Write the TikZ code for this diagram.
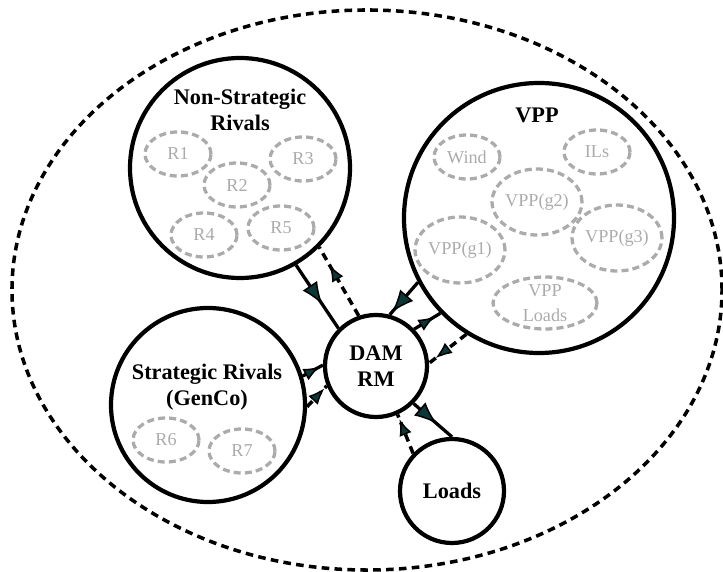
\documentclass[tikz,border=0pt]{standalone}
\usepackage{fontspec}
\setmainfont{Liberation Serif}
\usetikzlibrary{arrows.meta,shapes.geometric,decorations.markings}
\definecolor{membergray}{HTML}{ABABAB}
\definecolor{tipteal}{HTML}{0B3836}
\tikzset{
  agent/.style={circle,draw,line width=3.6pt,inner sep=0pt},
  agentlabel/.style={font=\bfseries\fontsize{19}{22}\selectfont,align=center},
  member/.style={ellipse,draw=membergray,line width=2.8pt,dash pattern=on 6pt off 3.5pt,
    text=membergray,font=\fontsize{15.5}{21}\selectfont,inner sep=0pt,
    minimum width=1.98cm,minimum height=1.32cm},
  flow/.style={line width=2.8pt},
  signal/.style={line width=3pt,dash pattern=on 6.5pt off 4.5pt},
  bigtip/.style={postaction={decorate,decoration={markings,
    mark=at position #1 with {\arrow[line width=1.3pt]{Latex[length=19pt,width=15pt,fill=tipteal]}}}}},
  smalltip/.style={postaction={decorate,decoration={markings,
    mark=at position #1 with {\arrow[line width=1.3pt]{Latex[length=14pt,width=11pt,fill=tipteal]}}}}}
}
\begin{document}
\begin{tikzpicture}[x=0.03cm,y=-0.03cm]
\useasboundingbox (0,0) rectangle (723,572);
% market boundary
\draw[line width=3pt,dash pattern=on 6.5pt off 4.5pt] (367,290) ellipse [x radius=10.65cm,y radius=8.4cm];

% agents
\node[agent,minimum size=6.6cm] (ns) at (240,168) {};
\node[agent,minimum size=8.1cm] (vpp) at (539,218) {};
\node[agent,minimum size=5.82cm] (sr) at (208,405) {};
\node[agent,agentlabel,minimum size=3.06cm] (dam) at (376,366) {DAM\\RM};
\node[agent,agentlabel,minimum size=3.12cm] (loads) at (452,491) {Loads};

\node[agentlabel] (nslabel) at (240,110) {Non-Strategic\\Rivals};
\node[agentlabel] (vpplabel) at (537,115) {VPP};
\node[agentlabel] (srlabel) at (207,387) {Strategic Rivals\\(GenCo)};

% rivals
\foreach \name/\x/\y in {R1/178/154,R2/237/185,R3/303/159,R4/204/235,R5/281/228,R6/166/440,R7/242/451}
  \node[member] (\name) at (\x,\y) {\name};

% VPP units
\node[member] (wind) at (467,157) {Wind};
\node[member] (ils) at (597,152) {ILs};
\node[member,minimum width=2.64cm,minimum height=1.98cm] (g2) at (537,202) {VPP(g2)};
\node[member,minimum width=2.52cm,minimum height=1.98cm] (g1) at (460,250) {VPP(g1)};
\node[member,minimum width=2.52cm,minimum height=1.98cm] (g3) at (617,238) {VPP(g3)};
\node[member,align=center,inner ysep=-6pt,minimum width=3.12cm,minimum height=1.56cm] (vpploads) at (545,303) {VPP\\Loads};

% offers, bids and prices
\draw[flow,bigtip=0.62] (ns.-60) -- (dam.135);
\draw[signal,smalltip=0.74] (dam.109) -- (ns.-45);
\draw[flow,bigtip=0.92] (vpp.208) -- (dam.75);
\draw[flow,smalltip=0.78] (dam.44) -- (vpp.224);
\draw[signal,smalltip=0.82] (vpp.238) -- (dam.3);
\draw[flow,smalltip=0.85] (sr.17) -- (dam.179);
\draw[signal,smalltip=0.88] (sr.-1) -- (dam.202);
\draw[flow,bigtip=0.6] (dam.-45) -- (loads.90);
\draw[signal,smalltip=0.88] (loads.136) -- (dam.-66);
\end{tikzpicture}
\end{document}
